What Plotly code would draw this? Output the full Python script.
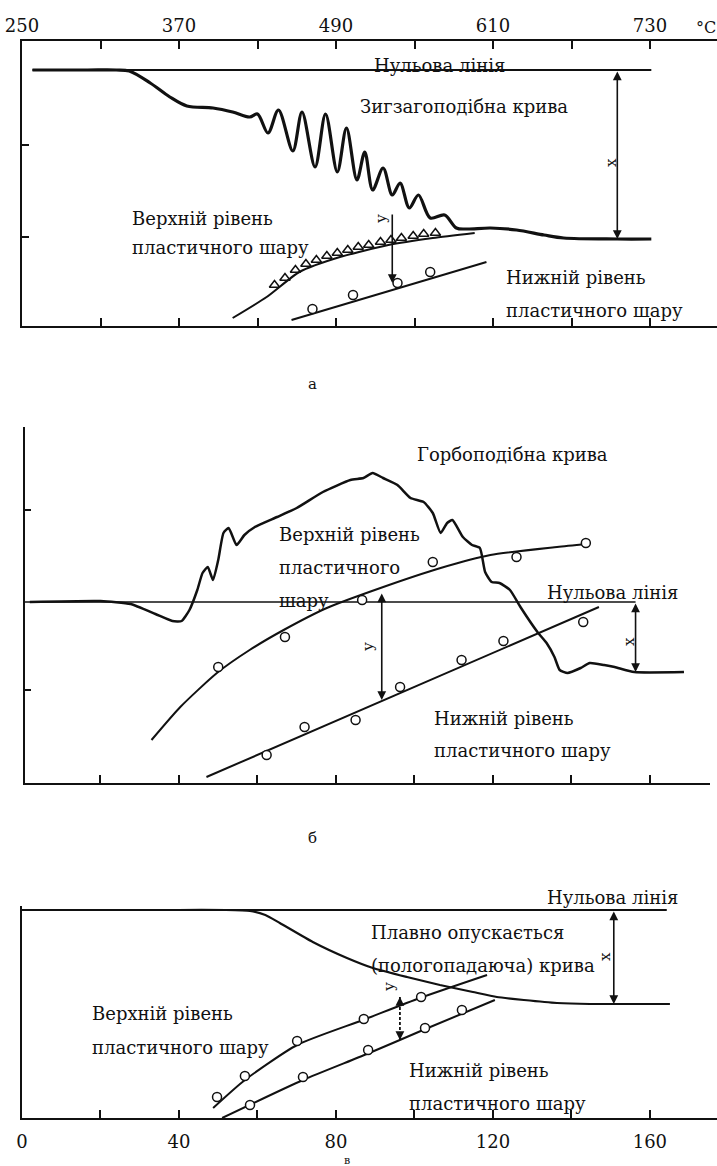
import plotly.graph_objects as go

W, H = 717, 1166
INK = "#111111"
SERIF = "DejaVu Serif"

# ---------------- panel а: temperature scale, zigzag curve ----------------
a_temp_ticks = [250, 310, 370, 430, 490, 550, 610, 670, 730]
a_temp_labels = ["250", "", "370", "", "490", "", "610", "", "730"]

a_zero_t = [258, 731]
a_zero_y = [256, 256]

a_curve_t = [258, 300, 322, 332, 348, 363, 376, 396, 411, 424, 430, 438, 446, 457,
             464, 474, 482, 491, 498, 506, 512, 518, 526, 533, 539, 546, 553, 562,
             573, 582, 590, 608, 628, 649, 664, 705, 731]
a_curve_y = [256, 256, 256, 255, 243, 229, 220, 218, 214, 209, 212, 193, 216, 175,
             214, 159, 212, 154, 198, 146, 174, 136, 158, 131, 143, 118, 131, 108,
             111, 98, 97, 98, 96, 91, 88, 87, 87]

a_upper_t = [411, 437, 462, 493, 530, 564, 596]
a_upper_y = [8, 29, 54, 69, 81, 88, 93]

a_saw_t = [443, 451, 459, 467, 475, 483, 491, 499, 507, 515, 524, 532, 540, 549, 557, 566]
a_saw_y = [41, 48, 56, 62, 66, 70, 73, 76, 79, 81, 84, 86, 88, 90, 92, 93]

a_lower_t = [456, 605]
a_lower_y = [6, 64]
a_lower_pts_t = [472, 503, 537, 562]
a_lower_pts_y = [17, 31, 43, 54]

a_x_arrow = (705, 256, 87)      # t, top, bottom
a_y_arrow = (533, 113, 43)

# ---------------- panel б: hump-shaped curve ----------------
b_ticks = [310, 370, 430, 490, 550, 610, 670, 730]

b_zero_t = [252.3, 719]
b_zero_y = [181, 181]

b_curve_t = [256, 310, 333, 352, 365, 372, 378, 384, 388, 392, 396, 400, 404, 408,
             414, 420, 428, 445, 460, 480, 501, 511, 518, 526, 537, 547, 557, 564,
             570, 575, 579, 587, 594, 600, 604, 609, 615, 623, 631, 644, 651, 657,
             661, 667, 677, 684, 695, 703, 718, 756]
b_curve_y = [181, 182, 179, 169, 162, 162, 173, 193, 210, 216, 203, 223, 250, 255,
             238, 248, 256, 266, 275, 291, 303, 305, 310, 305, 298, 285, 281, 270,
             250, 260, 263, 246, 238, 235, 211, 201, 200, 193, 176, 151, 140, 126,
             113, 110, 115, 120, 118, 116, 111, 111]

b_upper_t = [349, 371, 399, 424, 450, 483, 524, 570, 608, 659, 682]
b_upper_y = [43, 76, 110, 133, 153, 175, 195, 215, 228, 236, 239]
b_upper_pts_t = [400, 451, 510, 564, 628, 681]
b_upper_pts_y = [116, 146, 183, 221, 226, 240]

b_lower_t = [391, 691]
b_lower_y = [6, 176]
b_lower_pts_t = [437, 466, 505, 539, 586, 618, 679]
b_lower_pts_y = [28, 56, 63, 96, 123, 142, 161]

b_x_arrow = (719, 181, 111)
b_y_arrow = (525, 191, 83)

# ---------------- panel в: smoothly descending curve ----------------
c_ticks = [0, 20, 40, 60, 80, 100, 120, 140, 160]
c_labels = ["0", "", "40", "", "80", "", "120", "", "160"]

c_zero_t = [0, 164.3]
c_zero_y = [208, 208]

c_curve_t = [0, 40.0, 52.0, 58.1, 62.0, 65.7, 74.1, 82.8, 89.4, 98.1, 106.5, 114.9,
             121.0, 127.9, 136.3, 144.7, 165.1]
c_curve_y = [208, 208, 208, 207, 203, 195, 176, 160, 150, 141, 133, 126, 121, 118,
             115, 114, 114]

c_upper_t = [48.7, 56.8, 70.1, 86.9, 101.4, 118.5]
c_upper_y = [10, 38, 73, 98, 120, 143]
c_upper_pts_t = [49.7, 56.8, 70.1, 87.1, 101.7]
c_upper_pts_y = [21, 42, 77, 99, 121]

c_lower_t = [51.0, 71.6, 87.9, 102.2, 120.5]
c_lower_y = [0, 38, 64, 88, 118]
c_lower_pts_t = [58.1, 71.6, 88.2, 102.7, 112.1]
c_lower_pts_y = [13, 41, 68, 90, 108]

c_x_arrow = (150.8, 208, 114)
c_y_arrow = (96.3, 121, 78)


def px(x, y):
    """Page pixel -> paper coordinates."""
    return x / W, 1 - y / H


fig = go.Figure()


def line(xs, ys, ax, width=2.0, shape="spline", smoothing=0.6, dash=None):
    fig.add_trace(go.Scatter(
        x=xs, y=ys, mode="lines", xaxis=ax[0], yaxis=ax[1],
        line=dict(color=INK, width=width, shape=shape, smoothing=smoothing, dash=dash),
        hoverinfo="skip", showlegend=False))


def points(xs, ys, ax, symbol="circle", size=9, fill="white"):
    fig.add_trace(go.Scatter(
        x=xs, y=ys, mode="markers", xaxis=ax[0], yaxis=ax[1],
        marker=dict(symbol=symbol, size=size, color=fill,
                    line=dict(color=INK, width=1.5)),
        hoverinfo="skip", showlegend=False))


A, B, C = ("x", "y"), ("x2", "y2"), ("x3", "y3")

# panel а
line(a_zero_t, a_zero_y, A, 2, "linear")
line(a_curve_t, a_curve_y, A, 3.2, smoothing=0.9)
line(a_upper_t, a_upper_y, A, 2)
points(a_saw_t, a_saw_y, A, "triangle-up-open", 9, INK)
line(a_lower_t, a_lower_y, A, 2, "linear")
points(a_lower_pts_t, a_lower_pts_y, A)

# panel б
line(b_zero_t, b_zero_y, B, 1.6, "linear")
line(b_curve_t, b_curve_y, B, 2.5, smoothing=0.5)
line(b_upper_t, b_upper_y, B, 2)
points(b_upper_pts_t, b_upper_pts_y, B)
line(b_lower_t, b_lower_y, B, 2, "linear")
points(b_lower_pts_t, b_lower_pts_y, B)

# panel в
line(c_zero_t, c_zero_y, C, 2, "linear")
line(c_curve_t, c_curve_y, C, 2.2, smoothing=0.5)
line(c_upper_t, c_upper_y, C, 2)
points(c_upper_pts_t, c_upper_pts_y, C)
line(c_lower_t, c_lower_y, C, 2)
points(c_lower_pts_t, c_lower_pts_y, C)
# dashed distance marker between the two plastic-layer levels
line([c_y_arrow[0]] * 2, [c_y_arrow[1], c_y_arrow[2]], C, 1.8, "linear", dash="3px,2px")

annotations = []


def arrow(spec, ax, both=True):
    t, top, bottom = spec
    annotations.append(dict(
        x=t, y=bottom, ax=t, ay=top, xref=ax[0], yref=ax[1], axref=ax[0], ayref=ax[1],
        text="", showarrow=True, arrowhead=2, arrowsize=1.1, arrowwidth=1.6,
        arrowcolor=INK, arrowside="end+start" if both else "end"))


def heads(spec, ax):
    """Arrowheads only, for the dashed marker."""
    t, top, bottom = spec
    for y, dy in ((bottom, -9), (top, 9)):
        annotations.append(dict(
            x=t, y=y, xref=ax[0], yref=ax[1], ax=0, ay=dy, text="", showarrow=True,
            arrowhead=2, arrowsize=1.1, arrowwidth=1.6, arrowcolor=INK))


arrow(a_x_arrow, A)
arrow(a_y_arrow, A, both=False)
arrow(b_x_arrow, B)
arrow(b_y_arrow, B)
arrow(c_x_arrow, C)
heads(c_y_arrow, C)


def label(text, x, y, size=18, anchor="left", angle=0):
    xx, yy = px(x, y)
    annotations.append(dict(
        text=text, x=xx, y=yy, xref="paper", yref="paper", showarrow=False,
        xanchor=anchor, yanchor="middle", textangle=angle,
        font=dict(family=SERIF, size=size, color=INK)))


# panel а texts
label("Нульова лінія", 372, 66)
label("Зигзагоподібна крива", 358, 107)
label("Верхній рівень", 130, 218)
label("пластичного шару", 130, 248)
label("Нижній рівень", 504, 277)
label("пластичного шару", 504, 310)
label("°C", 694, 28, 16)
label("х", 611, 163, 15, "center", -90)
label("у", 381, 219, 15, "center", -90)
label("а", 312, 384, 15, "center")

# panel б texts
label("Горбоподібна крива", 415, 455)
label("Верхній рівень", 277, 535)
label("пластичного", 277, 567)
label("шару", 277, 600)
label("Нульова лінія", 545, 592)
label("Нижній рівень", 432, 718)
label("пластичного шару", 432, 750)
label("у", 368, 647, 15, "center", -90)
label("х", 629, 642, 15, "center", -90)
label("б", 312, 838, 15, "center")

# panel в texts
label("Нульова лінія", 545, 897)
label("Плавно опускається", 369, 932)
label("(пологопадаюча) крива", 369, 965)
label("Верхній рівень", 90, 1013)
label("пластичного шару", 90, 1047)
label("Нижній рівень", 407, 1070)
label("пластичного шару", 407, 1103)
label("у", 389, 987, 15, "center", -90)
label("х", 605, 957, 15, "center", -90)
label("в", 347, 1160, 11, "center")

axis_common = dict(showgrid=False, zeroline=False, showline=True, linecolor=INK,
                   linewidth=2, ticks="inside", tickcolor=INK, tickwidth=1.5,
                   fixedrange=True, automargin=False)
tick_font = dict(family=SERIF, size=18, color=INK)

fig.update_layout(
    width=W, height=H, margin=dict(l=0, r=0, t=0, b=0, autoexpand=False),
    paper_bgcolor="white", plot_bgcolor="rgba(0,0,0,0)",
    showlegend=False, annotations=annotations,
    xaxis=dict(**axis_common, domain=[22 / W, 1], range=[250, 781.2], side="top",
               anchor="y", mirror="ticks", ticklen=8, tickvals=a_temp_ticks,
               ticktext=a_temp_labels, tickfont=tick_font),
    yaxis=dict(**axis_common, domain=[1 - 326 / H, 1 - 41 / H], range=[0, 285],
               anchor="x", ticklen=7, tickvals=[89, 181], showticklabels=False),
    xaxis2=dict(**axis_common, domain=[25 / W, 710 / W], range=[252.3, 775.9],
                anchor="y2", ticklen=8, tickvals=b_ticks, showticklabels=False),
    yaxis2=dict(**axis_common, domain=[1 - 783 / H, 1 - 427 / H], range=[0, 356],
                anchor="x2", ticklen=6, tickvals=[93, 273], showticklabels=False),
    xaxis3=dict(**axis_common, domain=[22 / W, 1], range=[0, 177.1], anchor="y3",
                ticklen=8, tickvals=c_ticks, ticktext=c_labels, tickfont=tick_font,
                ticklabelstandoff=6),
    yaxis3=dict(**axis_common, domain=[1 - 1118 / H, 1 - 906 / H], range=[0, 212],
                anchor="x3", tickvals=[]),
)

fig.write_html("out.html")
